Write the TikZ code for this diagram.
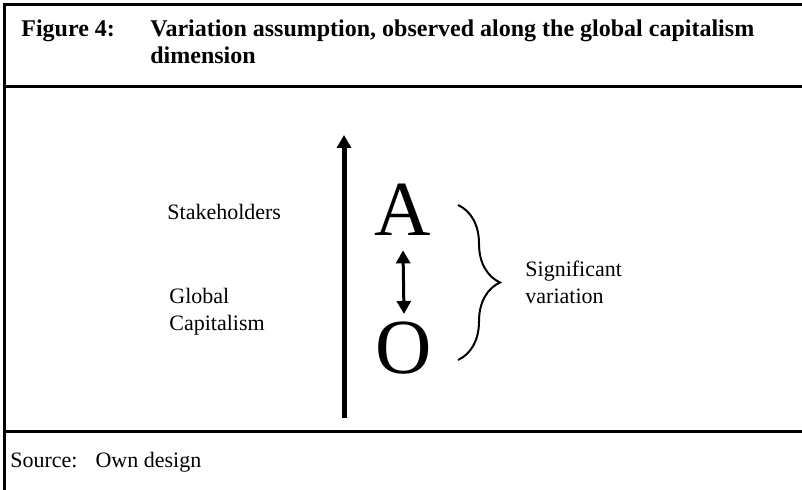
\documentclass[tikz,border=0pt]{standalone}
\usepackage{fontspec}
\setmainfont{Liberation Serif}
\usepackage{tikz}
\usetikzlibrary{arrows.meta, positioning, decorations.pathreplacing}
\tikzset{
  frameline/.style={line width=1.5pt,black},
  titlenode/.style={inner sep=0pt,anchor=base west,align=left,font=\fontsize{12}{13.5}\selectfont\bfseries},
  labelnode/.style={inner sep=0pt,anchor=base west,align=left,font=\fontsize{11}{13.5}\selectfont},
  letternode/.style={inner sep=0pt,anchor=base,font=\fontsize{39}{40}\selectfont},
  axisarr/.style={-{Triangle[width=7pt,length=6.5pt]},line width=2.5pt},
  dblarr/.style={{Triangle[width=7pt,length=6.5pt]}-{Triangle[width=7pt,length=6.5pt]},line width=1.5pt},
  bracearr/.style={decorate,decoration={brace,amplitude=21pt},line width=1pt}
}

\begin{document}
\begin{tikzpicture}[x=0.5pt,y=-0.5pt]

  \useasboundingbox (0,0) rectangle (802,490);

  %% Frame
  \draw[frameline] (802,5) -- (4,5) -- (4,490);
  \draw[frameline] (4,87) -- (802,87);
  \draw[frameline] (4,432) -- (802,432);

  %% Title (base = last line)
  \node[titlenode] (fignum) at (21,37) {Figure 4:};
  \node[titlenode] (figtitle) at (150,64)
    {Variation assumption, observed along the global capitalism\\dimension};

  %% Left labels
  \node[labelnode] (stake) at (167,220) {Stakeholders};
  \node[labelnode] (global) at (169,331) {Global\\Capitalism};

  %% Letters
  \node[letternode] (lettera) at (403,236) {A};
  \node[letternode] (lettero) at (404,374) {O};

  %% Right label
  \node[labelnode] (signif) at (525,304) {Significant\\variation};

  %% Axis
  \coordinate (axisbot) at (344,418);
  \coordinate (axistop) at (344,135);
  \draw[axisarr] (axisbot) -- (axistop);

  %% A <-> O
  \draw[dblarr] ([yshift=-7pt]lettera.south) -- ([yshift=4pt]lettero.north);

  %% Brace
  \coordinate (bracetop) at (458,205);
  \coordinate (bracebot) at (458,360);
  \draw[bracearr] (bracetop) -- (bracebot);

  %% Source
  \node[labelnode] (source) at (10,468) {Source:\hspace{9pt}Own design};

\end{tikzpicture}
\end{document}
